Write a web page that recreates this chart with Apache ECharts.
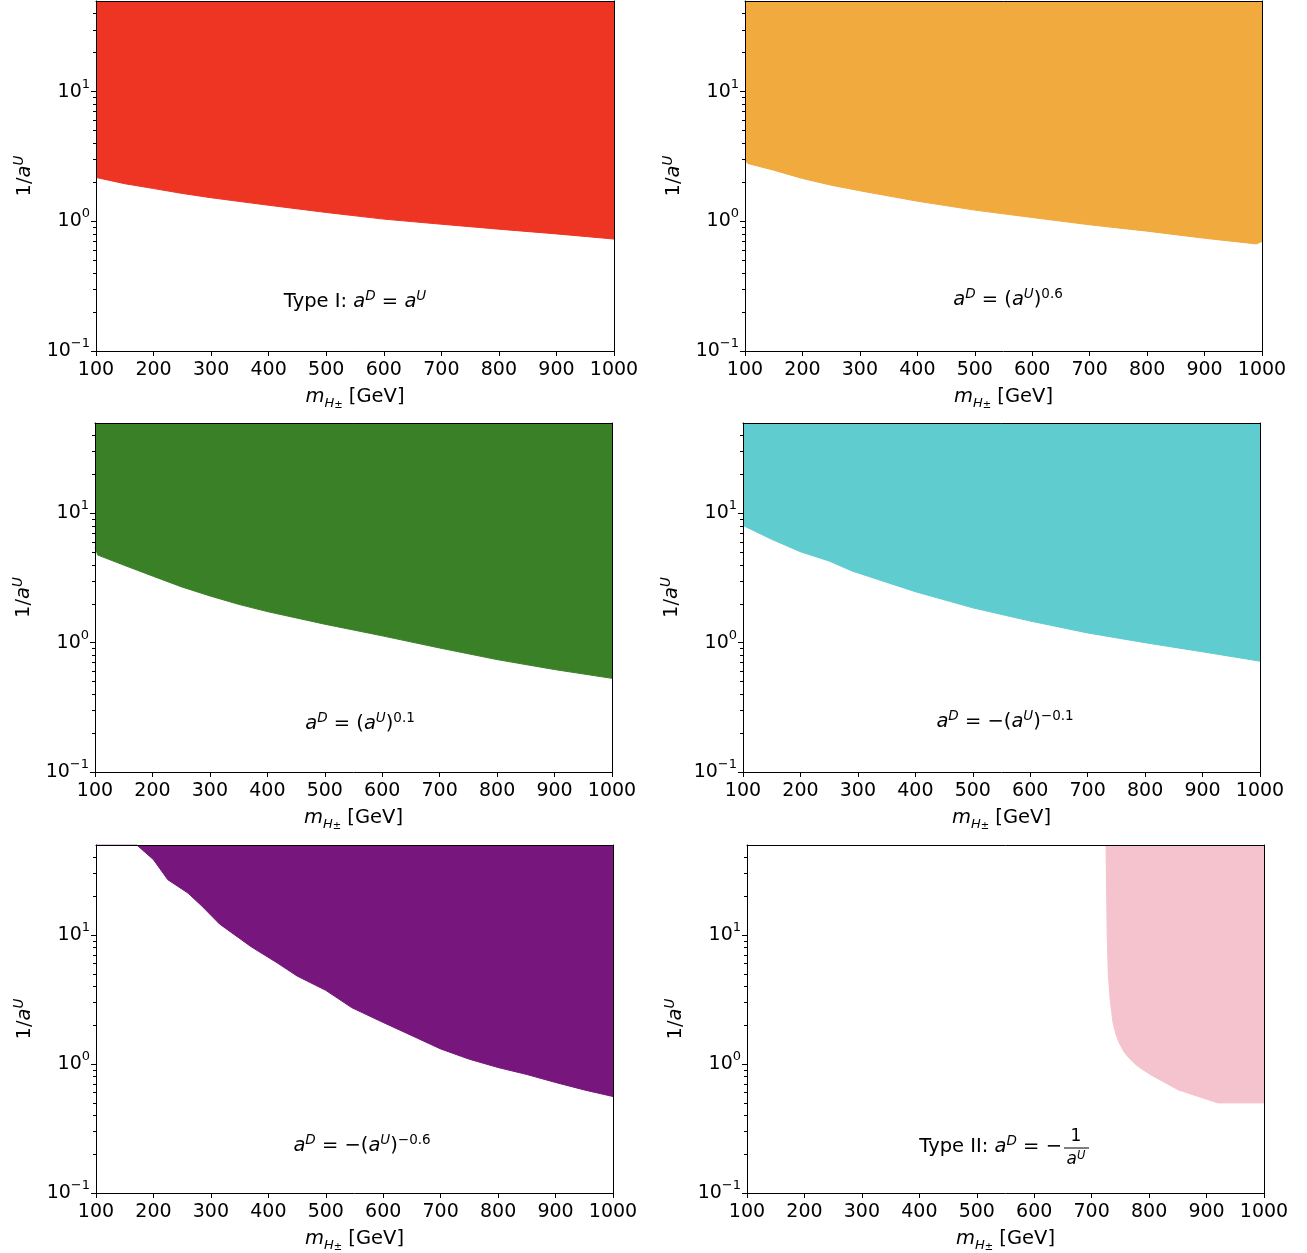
<!DOCTYPE html>
<html><head><meta charset="utf-8">
<script src="https://cdn.jsdelivr.net/npm/echarts@6/dist/echarts.min.js"></script>
<style>html,body{margin:0;padding:0;background:#fff}#c{width:1307px;height:1253px}</style>
</head><body><div id="c"></div>
<script>
// ---------- data ----------
const X_MIN = 100, X_MAX = 1000, X_STEP = 100;
const Y_MIN = 0.1, Y_MAX = 50;
const yMajorTicks = [0.1, 1, 10];
const yMinorTicks = [0.2,0.3,0.4,0.5,0.6,0.7,0.8,0.9,2,3,4,5,6,7,8,9,20,30,40];

const massTypeI = [100,150,200,250,300,400,500,600,700,800,900,1000];
const boundTypeI = [2.18,1.95,1.79,1.64,1.52,1.33,1.17,1.04,0.95,0.87,0.80,0.73];

const massPow06 = [100,105,150,200,250,300,400,500,600,700,800,900,990,1000];
const boundPow06 = [2.96,2.79,2.48,2.14,1.90,1.72,1.43,1.22,1.07,0.94,0.84,0.74,0.67,0.70];

const massPow01 = [100,105,150,200,250,300,350,400,500,600,700,800,900,1000];
const boundPow01 = [5.43,4.76,3.98,3.28,2.71,2.30,1.98,1.74,1.39,1.13,0.91,0.74,0.62,0.53];

const massNegPow01 = [100,150,200,250,290,400,500,600,700,800,900,1000];
const boundNegPow01 = [8.07,6.3,5.05,4.28,3.58,2.48,1.86,1.47,1.19,1.0,0.85,0.72];

const massNegPow06 = [100,171,200,225,260,285,315,370,415,450,500,545,600,650,700,750,800,850,900,950,1000];
const boundNegPow06 = [50,50,38.5,26.9,21.2,16.7,12.2,8.13,6.11,4.82,3.73,2.74,2.10,1.66,1.31,1.09,0.94,0.83,0.72,0.63,0.56];

const massTypeII = [725,727,729,732,737,742,747,756,763,778,785,804,851,902,920,1000];
const boundTypeII = [50,10,5,3.22,2.12,1.72,1.49,1.25,1.14,0.98,0.93,0.82,0.63,0.53,0.50,0.50];

// ---------- styling / layout ----------
const FONT = 'DejaVu Sans';
const panels = [
  {x: massTypeI,    y: boundTypeI,    color: '#EE3524', grid: {left:96,  top:1,   width:518, height:350}},
  {x: massPow06,    y: boundPow06,    color: '#F0AA3E', grid: {left:745, top:1,   width:517, height:350}},
  {x: massPow01,    y: boundPow01,    color: '#3A8026', grid: {left:95,  top:423, width:517, height:349}},
  {x: massNegPow01, y: boundNegPow01, color: '#5FCCCF', grid: {left:743, top:423, width:517, height:349}},
  {x: massNegPow06, y: boundNegPow06, color: '#77167C', grid: {left:96,  top:845, width:517, height:349}},
  {x: massTypeII,   y: boundTypeII,   color: '#F5C3CD', grid: {left:747, top:845, width:517, height:349}}
];

const rich = {
  n: {fontFamily: FONT, fontSize: 19.5, lineHeight: 26, color: '#000'},
  i: {fontFamily: FONT, fontSize: 19.5, lineHeight: 26, fontStyle: 'italic', color: '#000'},
  sup: {fontFamily: FONT, fontSize: 13.5, lineHeight: 10, verticalAlign: 'top', color: '#000'},
  supi: {fontFamily: FONT, fontSize: 13.5, lineHeight: 10, verticalAlign: 'top', fontStyle: 'italic', color: '#000'},
  sub: {fontFamily: FONT, fontSize: 13, lineHeight: 12, verticalAlign: 'bottom', fontStyle: 'italic', color: '#000'},
  pm: {fontFamily: FONT, fontSize: 10, lineHeight: 27, verticalAlign: 'bottom', color: '#000'}
};
const tickRich = {
  b: {fontFamily: FONT, fontSize: 19, lineHeight: 28, color: '#000'},
  s: {fontFamily: FONT, fontSize: 13, lineHeight: 12, verticalAlign: 'top', color: '#000'}
};

const grids = [], xAxes = [], yAxes = [], series = [];
panels.forEach((p, k) => {
  grids.push(Object.assign({containLabel: false, show: false}, p.grid));
  xAxes.push({
    gridIndex: k, type: 'value', min: X_MIN, max: X_MAX, interval: X_STEP, z: 5,
    axisLine: {show: true, onZero: false, lineStyle: {color: '#000', width: 1}},
    axisTick: {show: true, length: 5, lineStyle: {color: '#000', width: 1}},
    axisLabel: {fontFamily: FONT, fontSize: 19, color: '#000', margin: 10, formatter: v => String(v)},
    splitLine: {show: false},
    name: '{i|m}{sub|H}{pm|±}{n| [GeV]}',
    nameLocation: 'middle', nameGap: 32,
    nameTextStyle: {rich: rich}
  });
  xAxes.push({
    gridIndex: k, type: 'value', position: 'top', min: X_MIN, max: X_MAX, z: 5,
    axisLine: {show: true, onZero: false, lineStyle: {color: '#000', width: 1}},
    axisTick: {show: false}, axisLabel: {show: false}, splitLine: {show: false}
  });
  yAxes.push({
    gridIndex: k, type: 'log', logBase: 10, min: Y_MIN, max: Y_MAX, z: 5,
    axisLine: {show: true, onZero: false, lineStyle: {color: '#000', width: 1}},
    axisTick: {show: true, length: 5, customValues: yMajorTicks, lineStyle: {color: '#000', width: 1}},
    axisLabel: {
      customValues: yMajorTicks, margin: 6,
      formatter: v => {
        const e = Math.round(Math.log10(v));
        return '{b|10}{s|' + (e < 0 ? '\u2212' + (-e) : e) + '}';
      },
      rich: tickRich
    },
    splitLine: {show: false},
    name: '{n|1/}{i|a}{supi|U}',
    nameLocation: 'middle', nameGap: 58, nameRotate: 90,
    nameTextStyle: {rich: rich}
  });
  yAxes.push({
    gridIndex: k, type: 'log', logBase: 10, min: Y_MIN, max: Y_MAX, position: 'left', z: 5,
    axisLine: {show: false},
    axisTick: {show: true, length: 3, customValues: yMinorTicks, lineStyle: {color: '#000', width: 1}},
    axisLabel: {show: false}, splitLine: {show: false}
  });
  yAxes.push({
    gridIndex: k, type: 'log', logBase: 10, min: Y_MIN, max: Y_MAX, position: 'right', z: 5,
    axisLine: {show: true, onZero: false, lineStyle: {color: '#000', width: 1}},
    axisTick: {show: false}, axisLabel: {show: false}, splitLine: {show: false}
  });
  series.push({
    type: 'line', xAxisIndex: 2 * k, yAxisIndex: 3 * k,
    data: p.x.map((m, j) => [m, p.y[j]]),
    showSymbol: false, symbol: 'none', silent: true,
    lineStyle: {width: 1, color: p.color},
    areaStyle: {origin: 'end', color: p.color, opacity: 1},
    clip: true, z: 2
  });
});

// ---------- annotations ----------
function label(text, cx, cy) {
  return {type: 'text', x: cx, y: cy, z: 10,
    style: {text: text, rich: rich, align: 'center', verticalAlign: 'middle'}};
}
const graphic = [
  label('{n|Type I: }{i|a}{supi|D}{n| = }{i|a}{supi|U}', 355, 302),
  label('{i|a}{supi|D}{n| = (}{i|a}{supi|U}{n|)}{sup|0.6}', 1008, 300),
  label('{i|a}{supi|D}{n| = (}{i|a}{supi|U}{n|)}{sup|0.1}', 360, 724),
  label('{i|a}{supi|D}{n| = \u2212(}{i|a}{supi|U}{n|)}{sup|\u22120.1}', 1005, 722),
  label('{i|a}{supi|D}{n| = \u2212(}{i|a}{supi|U}{n|)}{sup|\u22120.6}', 362, 1146),
  {type: 'text', x: 1062, y: 1147, z: 10,
    style: {text: '{n|Type II: }{i|a}{supi|D}{n| = \u2212}', rich: rich, align: 'right', verticalAlign: 'middle'}},
  {type: 'text', x: 1076, y: 1137, z: 10,
    style: {text: '1', fontFamily: FONT, fontSize: 17, fill: '#000', align: 'center', verticalAlign: 'middle'}},
  {type: 'line', z: 10, shape: {x1: 1064, y1: 1148, x2: 1089, y2: 1148}, style: {stroke: '#000', lineWidth: 1}},
  {type: 'text', x: 1076, y: 1160, z: 10,
    style: {text: '{a|a}{u|U}', rich: {
      a: {fontFamily: FONT, fontSize: 17, lineHeight: 20, fontStyle: 'italic', fill: '#000'},
      u: {fontFamily: FONT, fontSize: 11.5, lineHeight: 8, verticalAlign: 'top', fontStyle: 'italic', fill: '#000'}
    }, align: 'center', verticalAlign: 'middle'}}
];

const chart = echarts.init(document.getElementById('c'), null, {renderer: 'canvas'});
chart.setOption({
  animation: false,
  backgroundColor: '#fff',
  grid: grids, xAxis: xAxes, yAxis: yAxes, series: series, graphic: graphic
});
</script></body></html>
